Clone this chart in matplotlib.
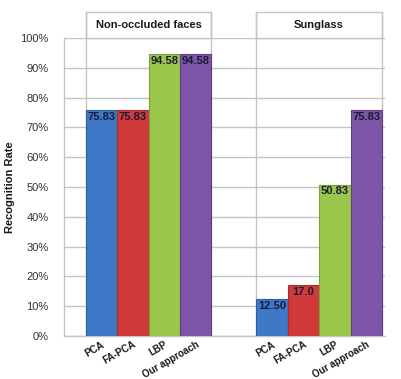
import matplotlib
matplotlib.use("Agg")
import matplotlib.pyplot as plt
from matplotlib.patches import Rectangle
import numpy as np

plt.rcParams['font.family'] = ['Liberation Sans', 'DejaVu Sans']

# Recognition rates (%) per method, for each test condition
methods = ["PCA", "FA-PCA", "LBP", "Our approach"]
conditions = ["Non-occluded faces", "Sunglass"]
non_occluded = [75.83, 75.83, 94.58, 94.58]
sunglass = [12.50, 17.0, 50.83, 75.83]
label_text = [["75.83", "75.83", "94.58", "94.58"],
              ["12.50", "17.0", "50.83", "75.83"]]
yticks = [0, 10, 20, 30, 40, 50, 60, 70, 80, 90, 100]

colors = ["#3E78C6", "#D03A3A", "#9AC64A", "#7C55A6"]
edges = ["#2F5E9E", "#A82C2C", "#7BA23A", "#5E3F82"]
grid_c = "#C4C4C4"

fig = plt.figure(figsize=(4.01, 3.79), dpi=100)
ax = fig.add_axes([64 / 401, 1 - 336 / 379, 321 / 401, 298 / 379])

group_gap = 1.44
n = len(methods)
group_start = [0.0, n + group_gap]
series = [non_occluded, sunglass]

header_h = 8.7  # header box height in percent units
xpos_all, xlab_all = [], []
for g, vals in enumerate(series):
    x = group_start[g] + np.arange(n)
    ax.bar(x, vals, width=1.0, color=colors, edgecolor=edges,
           linewidth=0.8, zorder=3)
    for xi, v, t in zip(x, vals, label_text[g]):
        ax.text(xi, v - 0.6, t, ha="center", va="top", fontsize=8,
                fontweight="bold", color="#1A1A38", zorder=4)
    left, right = x[0] - 0.5, x[-1] + 0.5
    # panel frame with header
    ax.add_patch(Rectangle((left, 100), right - left, header_h, fill=False,
                           edgecolor=grid_c, linewidth=1.0, clip_on=False,
                           zorder=2))
    for xe in (left, right):
        ax.plot([xe, xe], [0, 100 + header_h], color=grid_c, lw=1.0,
                clip_on=False, zorder=2)
    ax.text((left + right) / 2, 100 + header_h / 2, conditions[g],
            ha="center", va="center", fontsize=8, fontweight="bold",
            color="#1A1A1A")
    xpos_all.extend(x)
    xlab_all.extend(methods)

ax.set_xlim(-1.2, group_start[1] + n - 0.5 + 0.1)
ax.set_ylim(0, 100)
ax.set_yticks(yticks)
ax.set_yticklabels([f"{t}%" for t in yticks], fontsize=8, color="#333333")
ax.yaxis.grid(True, color=grid_c, linewidth=1.0, zorder=0)
ax.tick_params(axis="y", length=0, pad=11)
ax.set_xticks(xpos_all)
ax.set_xticklabels(xlab_all, rotation=30, ha="right", va="top",
                   rotation_mode="anchor", fontsize=7, fontweight="bold",
                   color="#1A1A1A")
ax.tick_params(axis="x", length=0, pad=2.5)
for s in ("top", "right"):
    ax.spines[s].set_visible(False)
for s in ("left", "bottom"):
    ax.spines[s].set_color(grid_c)
    ax.spines[s].set_linewidth(1.0)
ax.set_axisbelow(True)

ax.set_ylabel("Recognition Rate", fontsize=8, fontweight="bold",
              color="#1A1A1A")
ax.yaxis.set_label_coords(-49 / 321, 0.5)

fig.savefig("out.png", dpi=100)
